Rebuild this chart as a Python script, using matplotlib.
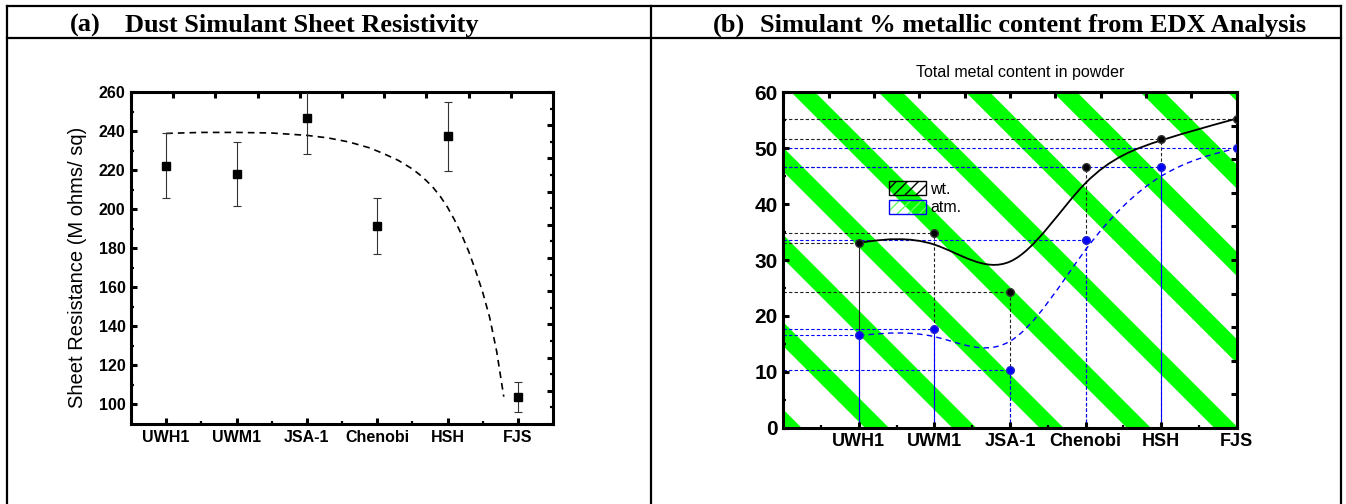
import numpy as np
import matplotlib
matplotlib.use("Agg")
import matplotlib.pyplot as plt
from matplotlib.lines import Line2D
from matplotlib.patches import Patch, Polygon, PathPatch
from matplotlib.path import Path
from matplotlib.legend_handler import HandlerTuple

W, H = 1346, 504
plt.rcParams["font.family"] = ["Liberation Sans", "DejaVu Sans"]

samples = ["UWH1", "UWM1", "JSA-1", "Chenobi", "HSH", "FJS"]
pos = np.arange(1, len(samples) + 1)

# sheet resistance (M ohms/sq), mean and error
res_mean = [222.2, 217.8, 246.8, 191.5, 237.3, 103.8]
res_err = [16.6, 16.4, 18.4, 14.3, 17.8, 7.7]
# trend line through the resistance data
fit_x = [1.0, 1.5, 2.0, 2.5, 3.0, 3.3, 3.6, 3.9, 4.1, 4.3, 4.5, 4.6, 4.7, 4.8, 4.9,
         5.0, 5.1, 5.2, 5.3, 5.4, 5.5, 5.6, 5.7, 5.8]
fit_y = [238.8, 239.3, 239.3, 239.0, 237.8, 236.5, 234.4, 231.3, 228.3, 225.0, 220.6,
         217.8, 214.6, 210.9, 206.4, 201.0, 194.5, 187.0, 178.5, 168.5, 157.5,
         144.5, 127.0, 104.0]

# EDX total metal content (%)
metal_wt = [33.1, 34.8, 24.2, 46.7, 51.6, 55.3]
metal_atm = [16.5, 17.7, 10.4, 33.5, 46.6, 50.0]


def fx(px):
    return px / W


def fy(py):
    return 1 - py / H


def bspline_path(xs, ys):
    # uniform cubic B-spline with clamped ends, as Bezier segments
    P = np.column_stack([xs, ys]).astype(float)
    P = np.vstack([P[0], P[0], P, P[-1], P[-1]])
    verts, codes = [], []
    for i in range(len(P) - 3):
        p0, p1, p2, p3 = P[i:i + 4]
        if i == 0:
            verts.append((p0 + 4 * p1 + p2) / 6)
            codes.append(Path.MOVETO)
        verts += [(2 * p1 + p2) / 3, (p1 + 2 * p2) / 3, (p1 + 4 * p2 + p3) / 6]
        codes += [Path.CURVE4] * 3
    return Path(verts, codes)


fig = plt.figure(figsize=(W / 100, H / 100), dpi=100)


def rule(x0, y0, x1, y1):
    fig.add_artist(Line2D([fx(x0), fx(x1)], [fy(y0), fy(y1)], color="black",
                          lw=1.6, transform=fig.transFigure, solid_capstyle="projecting"))


# table frame
rule(7, 6, 1341, 6)
rule(7, 37.5, 1341, 37.5)
rule(7, 6, 7, 504)
rule(651, 6, 651, 504)
rule(1341, 6, 1341, 504)

hdr = dict(family=["Liberation Serif", "DejaVu Serif"], fontweight="bold", fontsize=19, va="baseline")
fig.text(fx(70), fy(32), "(a)", **hdr)
fig.text(fx(125), fy(32), "Dust Simulant Sheet Resistivity", **hdr)
fig.text(fx(713), fy(32), "(b)", **hdr)
fig.text(fx(760), fy(32), "Simulant % metallic content from EDX Analysis", **hdr)

SPINE = 2.2

# ---- (a) sheet resistance ----
axa = fig.add_axes([fx(131), fy(424), (553 - 131) / W, (424 - 92) / H])
axa.errorbar(pos, res_mean, yerr=res_err, fmt="s", color="black", ms=6,
             ecolor="#333333", elinewidth=0.8, capsize=3, capthick=0.8, zorder=3)
axa.plot(fit_x, fit_y, color="black", lw=1.2, dashes=(4, 3), zorder=2)
axa.set_xlim(0.5, 6.5)
axa.set_ylim(90, 260)
axa.set_xticks(pos, samples)
axa.set_xticks(pos[:-1] + 0.5, minor=True)
axa.set_yticks(np.arange(100, 261, 20))
axa.set_yticks(np.arange(110, 260, 20), minor=True)
axa.tick_params(which="major", direction="in", length=4.5, width=SPINE, labelsize=11.5, pad=4)
axa.tick_params(which="minor", direction="in", length=2.5, width=1.6)
for lab in axa.get_xticklabels() + axa.get_yticklabels():
    lab.set_fontweight("bold")
for sp in axa.spines.values():
    sp.set_linewidth(SPINE)

axa_top = axa.twiny()
axa_top.set_xlim(0, 10)
axa_top.set_xticks(range(11))
axa_top.tick_params(axis="x", direction="in", length=4.5, width=SPINE, labeltop=False)
axa_right = axa.twinx()
axa_right.set_ylim(0, 10)
axa_right.set_yticks(range(11))
axa_right.set_yticks(np.arange(0.5, 10, 1), minor=True)
axa_right.tick_params(axis="y", which="major", direction="in", length=4.5, width=SPINE, labelright=False)
axa_right.tick_params(axis="y", which="minor", direction="in", length=2.5, width=1.6)

fig.text(fx(78), fy(267), "Sheet Resistance (M ohms/ sq)", rotation=90,
         ha="center", va="center", fontsize=14.5)

# ---- (b) EDX metal content ----
bx0, bx1, by0, by1 = 783.3, 1236.7, 92.3, 427.7
axb = fig.add_axes([fx(bx0), fy(by1), (bx1 - bx0) / W, (by1 - by0) / H])
aw, ah = bx1 - bx0, by1 - by0
axb.set_xlim(0, 6)
axb.set_ylim(0, 60)

# green diagonal background stripes
step, band, start = 87.3, 24.0, 8.0
for k in range(-5, 7):
    x0 = start + k * step
    pts = [(x0, 0), (x0 + band, 0), (x0 + band + ah, ah), (x0 + ah, ah)]
    axb.add_patch(Polygon([(px / aw, 1 - d / ah) for px, d in pts], closed=True,
                          transform=axb.transAxes, facecolor="#00ff00",
                          edgecolor="none", zorder=0.5))

drop = (0, (3, 2))
wt_vstyle = ["solid", drop, drop, drop, drop, drop]
atm_vstyle = ["solid", "solid", drop, drop, "solid", "solid"]
axb.hlines(metal_wt, 0, pos, colors="#222222", linestyles=drop, lw=0.8, zorder=1)
axb.vlines(pos, 0, metal_wt, colors="#222222", linestyles=wt_vstyle, lw=0.8, zorder=1)
axb.hlines(metal_atm, 0, pos, colors="blue", linestyles=drop, lw=0.8, zorder=1.1)
axb.vlines(pos, 0, metal_atm, colors="blue", linestyles=atm_vstyle, lw=0.8, zorder=1.1)

axb.add_patch(PathPatch(bspline_path(pos, metal_wt), facecolor="none",
                        edgecolor="black", lw=1.3, zorder=2))
axb.add_patch(PathPatch(bspline_path(pos, metal_atm), facecolor="none",
                        edgecolor="blue", lw=1.0, linestyle=(0, (4, 3)), zorder=2))
axb.plot(pos, metal_wt, "o", color="black", mec="#333333", ms=5.5, zorder=3)
axb.plot(pos, metal_atm, "o", color="blue", mec="#2222cc", ms=5.5, zorder=3)

axb.set_xticks(pos, samples)
axb.set_xticks(pos - 0.5, minor=True)
axb.set_yticks(np.arange(0, 61, 10))
axb.set_yticks(np.arange(5, 60, 10), minor=True)
axb.tick_params(which="major", direction="in", length=4.5, width=SPINE, pad=4)
axb.tick_params(which="minor", direction="in", length=2.5, width=1.6)
axb.tick_params(axis="x", labelsize=13)
axb.tick_params(axis="y", labelsize=15)
for lab in axb.get_xticklabels() + axb.get_yticklabels():
    lab.set_fontweight("bold")
for sp in axb.spines.values():
    sp.set_linewidth(SPINE)

axb_top = axb.twiny()
axb_top.set_xlim(0, 10)
axb_top.set_xticks(range(11))
axb_top.tick_params(axis="x", direction="in", length=4.5, width=SPINE, labeltop=False)
axb_right = axb.twinx()
axb_right.set_ylim(0, 10)
axb_right.set_yticks(range(11))
axb_right.tick_params(axis="y", direction="in", length=4.5, width=SPINE, labelright=False)

h_wt = Patch(facecolor="none", edgecolor="black", hatch="///", lw=1.0)
h_atm = (Patch(facecolor="none", edgecolor="#66ff66", hatch="///", lw=0),
         Patch(facecolor="none", edgecolor="blue", lw=1.0))
axb_right.legend([h_wt, h_atm], ["wt.", "atm."], loc="upper left",
                 bbox_to_anchor=((889 - bx0) / aw, 1 - (181 - by0) / ah),
                 frameon=False, fontsize=11.5, handlelength=2.3, handleheight=1.0,
                 handletextpad=0.3, labelspacing=0.2, borderpad=0, borderaxespad=0,
                 handler_map={tuple: HandlerTuple(ndivide=1, pad=0)})

fig.text(fx(1020), fy(73), "Total metal content in powder", ha="center", va="center", fontsize=11.5)

fig.savefig("out.png", dpi=100)
